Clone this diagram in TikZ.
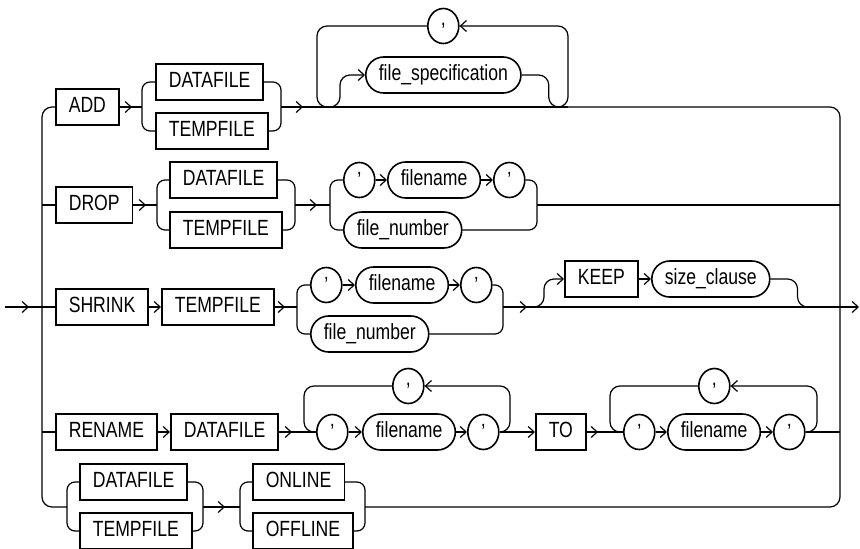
\documentclass[tikz,border=0pt]{standalone}
\usepackage{fontspec}
\setmainfont{Liberation Sans}[FakeStretch=0.8]
\usetikzlibrary{arrows.meta,shapes.geometric,decorations.markings}

\begin{document}
\begin{tikzpicture}[x=1pt, y=-1pt, line width=1.2pt,
  >={Straight Barb[length=6pt,width=11pt]},
  font=\fontsize{22}{26}\selectfont,
  kw/.style={draw, rectangle, line width=1.6pt, anchor=west, minimum height=36pt,
    inner xsep=13pt, text height=15.5pt, text depth=4pt},
  nt/.style={draw, rectangle, rounded corners=17.9pt, line width=1.6pt, anchor=west,
    minimum height=36pt, inner xsep=13pt, text height=15.5pt, text depth=4pt},
  qt/.style={draw, ellipse, line width=1.6pt, anchor=west, minimum width=31pt,
    minimum height=35pt, inner sep=0pt},
  midarr/.style={postaction={decorate}, decoration={markings,
    mark=at position #1 with {\arrow{>}}}}]
  \useasboundingbox (0,0) rectangle (860,549);

  % Entry, exit and the two bars
  \coordinate (start) at (5,307);
  \coordinate (exit) at (859,307);
  \coordinate (lb) at (42,307);
  \coordinate (rb) at (840,307);

  % ADD row
  \node[kw] (add) at (55,107) {ADD};
  \node[kw] (adddf) at (155,82) {DATAFILE};
  \node[kw] (addtf) at (155,131) {TEMPFILE};
  \node[nt] (fspec) at (365,75) {file\_specification};
  \node[qt] (fcomma) at (427,26) {,};
  \coordinate (a1) at (142,107);
  \coordinate (a2) at (281,107);
  \coordinate (a3) at (317,107);
  \coordinate (a4) at (568,107);

  % DROP row
  \node[kw] (drop) at (55,205) {DROP};
  \node[kw] (dropdf) at (169,180) {DATAFILE};
  \node[kw] (droptf) at (169,230) {TEMPFILE};
  \node[qt] (dq1) at (343,180) {’};
  \node[nt] (dfn) at (387,180) {filename};
  \node[qt] (dq2) at (493,180) {’};
  \node[nt] (dnum) at (343,230) {file\_number};
  \coordinate (b1) at (157,205);
  \coordinate (b2) at (295,205);
  \coordinate (b3) at (330,205);
  \coordinate (b4) at (537,205);

  % SHRINK row
  \node[kw] (shrink) at (55,307) {SHRINK};
  \node[kw] (shtf) at (161,307) {TEMPFILE};
  \node[qt] (sq1) at (310,285) {’};
  \node[nt] (sfn) at (355,285) {filename};
  \node[qt] (sq2) at (460,285) {’};
  \node[nt] (snum) at (310,334) {file\_number};
  \node[kw] (keep) at (564,279) {KEEP};
  \node[nt] (size) at (651,279) {size\_clause};
  \coordinate (c1) at (297,307);
  \coordinate (c2) at (503,307);

  % RENAME row
  \node[kw] (rename) at (55,432) {RENAME};
  \node[kw] (rdf) at (170,432) {DATAFILE};
  \node[qt] (rq1) at (316,432) {’};
  \node[nt] (rfn) at (362,432) {filename};
  \node[qt] (rq2) at (467,432) {’};
  \node[qt] (rcomma) at (392,386) {,};
  \node[kw] (to) at (535,432) {TO};
  \node[qt] (tq1) at (623,432) {’};
  \node[nt] (tfn) at (667,432) {filename};
  \node[qt] (tq2) at (773,432) {’};
  \node[qt] (tcomma) at (698,386) {,};
  \coordinate (d1) at (304,432);
  \coordinate (d2) at (510,432);
  \coordinate (d3) at (610,432);
  \coordinate (d4) at (817,432);

  % ONLINE / OFFLINE row
  \node[kw] (df) at (79,482) {DATAFILE};
  \node[kw] (tf) at (79,531) {TEMPFILE};
  \node[kw] (online) at (252,482) {ONLINE};
  \node[kw] (offline) at (252,531) {OFFLINE};
  \coordinate (e1) at (67,507);
  \coordinate (e2) at (203,507);
  \coordinate (e3) at (240,507);
  \coordinate (e4) at (365,507);

  % Bars
  \draw[midarr=-13pt] (start) -- (lb);
  \draw[rounded corners=10pt] (add.west) -| (lb) |- (e1);
  \draw[rounded corners=10pt] (a4) -| (rb) |- (e4);
  \draw[->] (rb) -- (exit);

  % ADD
  \draw[midarr=-10pt] (add.east) -- (a1);
  \draw[rounded corners=8pt] (adddf.west) -| (a1) |- (addtf.west);
  \draw[rounded corners=8pt] (adddf.east) -| (a2) |- (addtf.east);
  \draw[midarr=-14pt] (a2) -- (a3);
  \draw (a3) -- (a4);
  \draw[->, rounded corners=10pt] (a3) -- ++(23,0) |- (fspec.west);
  \draw[rounded corners=10pt] (fspec.east) -- ++(27,0) |- (a4);
  \draw[rounded corners=10pt] (fcomma.west) -| (a3) -- ([xshift=14pt]a3);
  \draw[->, rounded corners=10pt] ([xshift=-14pt]a4) -- (a4) |- (fcomma.east);

  % DROP
  \draw (lb |- drop) -- (drop.west);
  \draw[midarr=-11pt] (drop.east) -- (b1);
  \draw[rounded corners=8pt] (dropdf.west) -| (b1) |- (droptf.west);
  \draw[rounded corners=8pt] (dropdf.east) -| (b2) |- (droptf.east);
  \draw[midarr=-13pt] (b2) -- (b3);
  \draw[rounded corners=8pt] (dq1.west) -| (b3) |- (dnum.west);
  \draw[rounded corners=8pt] (dq2.east) -| (b4) |- (dnum.east);
  \draw[->] (dq1.east) -- (dfn.west);
  \draw[->] (dfn.east) -- (dq2.west);
  \draw (b4) -- (rb |- b4);

  % SHRINK
  \draw (lb) -- (shrink.west);
  \draw[->] (shrink.east) -- (shtf.west);
  \draw[midarr=-12pt] (shtf.east) -- (c1);
  \draw[rounded corners=8pt] (sq1.west) -| (c1) |- (snum.west);
  \draw[rounded corners=8pt] (sq2.east) -| (c2) |- (snum.east);
  \draw[->] (sq1.east) -- (sfn.west);
  \draw[->] (sfn.east) -- (sq2.west);
  \draw[midarr=24pt] (c2) -- (rb);
  \draw[->, rounded corners=10pt] ([xshift=28pt]c2) -| ([xshift=-20pt]keep.west) -- (keep.west);
  \draw[->] (keep.east) -- (size.west);
  \draw[rounded corners=10pt] (size.east) -- ++(27,0) -- ++(0,28) -- ++(12,0);

  % RENAME
  \draw (lb |- rename) -- (rename.west);
  \draw[->] (rename.east) -- (rdf.west);
  \draw[midarr=-24pt] (rdf.east) -- (rq1.west);
  \draw[rounded corners=10pt] (rcomma.west) -| (d1) -- (rq1.west);
  \draw[->] (rq1.east) -- (rfn.west);
  \draw[->] (rfn.east) -- (rq2.west);
  \draw[->, rounded corners=10pt] (rq2.east) -- (d2) |- (rcomma.east);
  \draw[->] (rq2.east) -- (to.west);
  \draw[midarr=-25pt] (to.east) -- (tq1.west);
  \draw[rounded corners=10pt] (tcomma.west) -| (d3) -- (tq1.west);
  \draw[->] (tq1.east) -- (tfn.west);
  \draw[->] (tfn.east) -- (tq2.west);
  \draw[->, rounded corners=10pt] (tq2.east) -- (d4) |- (tcomma.east);
  \draw (tq2.east) -- (rb |- tq2);

  % ONLINE / OFFLINE
  \draw[rounded corners=8pt] (df.west) -| (e1) |- (tf.west);
  \draw[rounded corners=8pt] (df.east) -| (e2) |- (tf.east);
  \draw[midarr=-15pt] (e2) -- (e3);
  \draw[rounded corners=8pt] (online.west) -| (e3) |- (offline.west);
  \draw[rounded corners=8pt] (online.east) -| (e4) |- (offline.east);
\end{tikzpicture}
\end{document}
